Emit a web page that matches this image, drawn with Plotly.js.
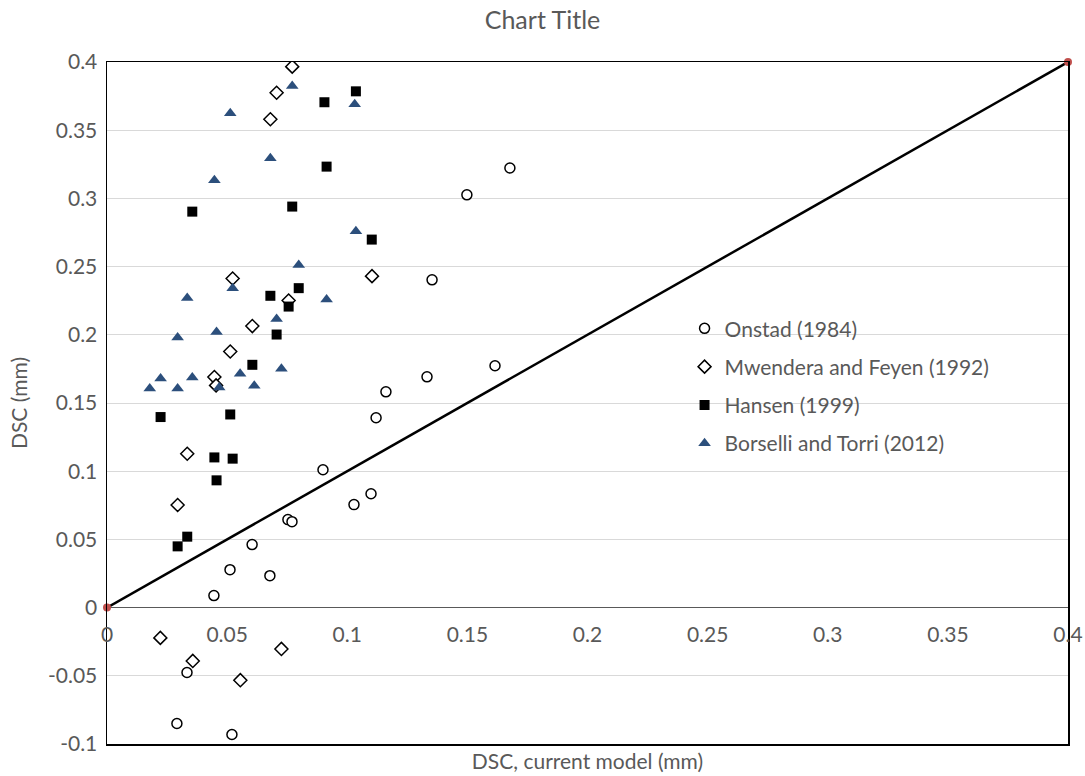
<!DOCTYPE html>
<html>
<head>
<meta charset="utf-8">
<script src="https://cdn.plot.ly/plotly-3.0.1.min.js"></script>
<style>html,body{margin:0;padding:0;background:#fff}#chart{width:1085px;height:776px}</style>
</head>
<body>
<div id="chart"></div>
<script>
// ---- Data ----
const onstadX = [0.1677,0.1498,0.1353,0.1615,0.1332,0.1161,0.1120,0.0899,0.1099,0.1028,0.0753,0.0770,0.0604,0.0512,0.0678,0.0445,0.0333,0.0291,0.0520];
const onstadY = [0.3223,0.3026,0.2403,0.1773,0.1692,0.1582,0.1392,0.1011,0.0835,0.0755,0.0645,0.0630,0.0462,0.0278,0.0234,0.0088,-0.0476,-0.0850,-0.0930];

const mwenderaX = [0.0771,0.0706,0.0680,0.0523,0.1103,0.0756,0.0605,0.0513,0.0447,0.0454,0.0334,0.0294,0.0222,0.0357,0.0726,0.0555];
const mwenderaY = [0.3966,0.3775,0.3580,0.2413,0.2430,0.2251,0.2064,0.1878,0.1690,0.1629,0.1128,0.0752,-0.0222,-0.0391,-0.0303,-0.0532];

const hansenX = [0.1036,0.0905,0.0914,0.0355,0.0771,0.1102,0.0798,0.0680,0.0756,0.0706,0.0605,0.0223,0.0513,0.0447,0.0523,0.0456,0.0334,0.0294];
const hansenY = [0.3785,0.3705,0.3233,0.2903,0.2940,0.2698,0.2342,0.2286,0.2207,0.2002,0.1780,0.1397,0.1416,0.1101,0.1092,0.0933,0.0520,0.0449];

const borselliX = [0.0771,0.1031,0.0513,0.0680,0.0447,0.1036,0.0798,0.0523,0.0334,0.0914,0.0706,0.0294,0.0456,0.0726,0.0554,0.0223,0.0355,0.0178,0.0294,0.0467,0.0613];
const borselliY = [0.3824,0.3690,0.3624,0.3294,0.3133,0.2760,0.2511,0.2342,0.2269,0.2259,0.2115,0.1980,0.2020,0.1751,0.1714,0.1680,0.1687,0.1607,0.1607,0.1614,0.1626];

const lineX = [0, 0.4];
const lineY = [0, 0.4];

const seriesNames = ["Onstad (1984)", "Mwendera and Feyen (1992)", "Hansen (1999)", "Borselli and Torri (2012)"];

const xTickVals = [0,0.05,0.1,0.15,0.2,0.25,0.3,0.35,0.4];
const xTickText = ["0","0.05","0.1","0.15","0.2","0.25","0.3","0.35","0.4"];
const yTickVals = [-0.1,-0.05,0,0.05,0.1,0.15,0.2,0.25,0.3,0.35,0.4];
const yTickText = ["-0.1","-0.05","0","0.05","0.1","0.15","0.2","0.25","0.3","0.35","0.4"];

// ---- Chart ----
const FONT = "Lato, 'Open Sans', sans-serif";
const GRAY = "#595959";
const FS = 21;

const traces = [
  {x: onstadX, y: onstadY, name: seriesNames[0], type: "scatter", mode: "markers", legendgroup: "a",
   marker: {symbol: "circle", size: 10, color: "#ffffff", line: {color: "#000000", width: 1.5}}},
  {x: mwenderaX, y: mwenderaY, name: seriesNames[1], type: "scatter", mode: "markers", legendgroup: "b",
   marker: {symbol: "diamond", size: 10, color: "#ffffff", line: {color: "#000000", width: 1.5}}},
  {x: hansenX, y: hansenY, name: seriesNames[2], type: "scatter", mode: "markers", legendgroup: "c",
   marker: {symbol: "square", size: 10, color: "#000000"}},
  {x: borselliX, y: borselliY, name: seriesNames[3], type: "scatter", mode: "markers", legendgroup: "d",
   marker: {symbol: "triangle-up", size: 11, color: "#2C4F7C"}},
  {x: lineX, y: lineY, xaxis: "x2", yaxis: "y", type: "scatter", mode: "lines+markers", showlegend: false,
   cliponaxis: false,
   line: {color: "#000000", width: 2.5}, marker: {color: "#C0504D", size: 8}}
];

const layout = {
  width: 1085, height: 776,
  paper_bgcolor: "#ffffff", plot_bgcolor: "#ffffff",
  margin: {l: 107, r: 17, t: 62, b: 32},
  font: {family: FONT, color: GRAY, size: FS},
  title: {text: "Chart Title", font: {family: FONT, size: 25, color: GRAY}, x: 0.5, xanchor: "center", y: 0.974, yanchor: "middle"},
  showlegend: true,
  legend: {x: 0.601, y: 0.639, xanchor: "left", yanchor: "top", bgcolor: "rgba(0,0,0,0)",
           font: {family: FONT, size: FS, color: GRAY}, traceorder: "grouped", tracegroupgap: 8, itemwidth: 30},
  xaxis: {range: [0, 0.4], showgrid: false, zeroline: false, showticklabels: false, ticks: "",
          showline: true, mirror: true, linecolor: "#000000", linewidth: 1.5,
          title: {text: "DSC, current model (mm)", font: {family: FONT, size: FS, color: GRAY}, standoff: 10},
          automargin: false, fixedrange: true},
  xaxis2: {range: [0, 0.4], overlaying: "x", anchor: "free", position: 0.2, side: "bottom",
           showgrid: false, zeroline: false, showline: false, ticks: "",
           tickvals: xTickVals, ticktext: xTickText, tickfont: {family: FONT, size: FS, color: GRAY},
           ticklabelstandoff: 12, automargin: false, fixedrange: true},
  yaxis: {range: [-0.1, 0.4], showgrid: true, gridcolor: "#d9d9d9", gridwidth: 1,
          zeroline: true, zerolinecolor: "#595959", zerolinewidth: 1.2,
          showline: true, mirror: true, linecolor: "#000000", linewidth: 1.5, ticks: "",
          tickvals: yTickVals, ticktext: yTickText, tickfont: {family: FONT, size: FS, color: GRAY},
          ticklabelstandoff: 4,
          title: {text: "DSC (mm)", font: {family: FONT, size: FS, color: GRAY}, standoff: 14},
          automargin: false, fixedrange: true}
};

Plotly.newPlot("chart", traces, layout, {displayModeBar: false, staticPlot: true});
</script>
</body>
</html>
